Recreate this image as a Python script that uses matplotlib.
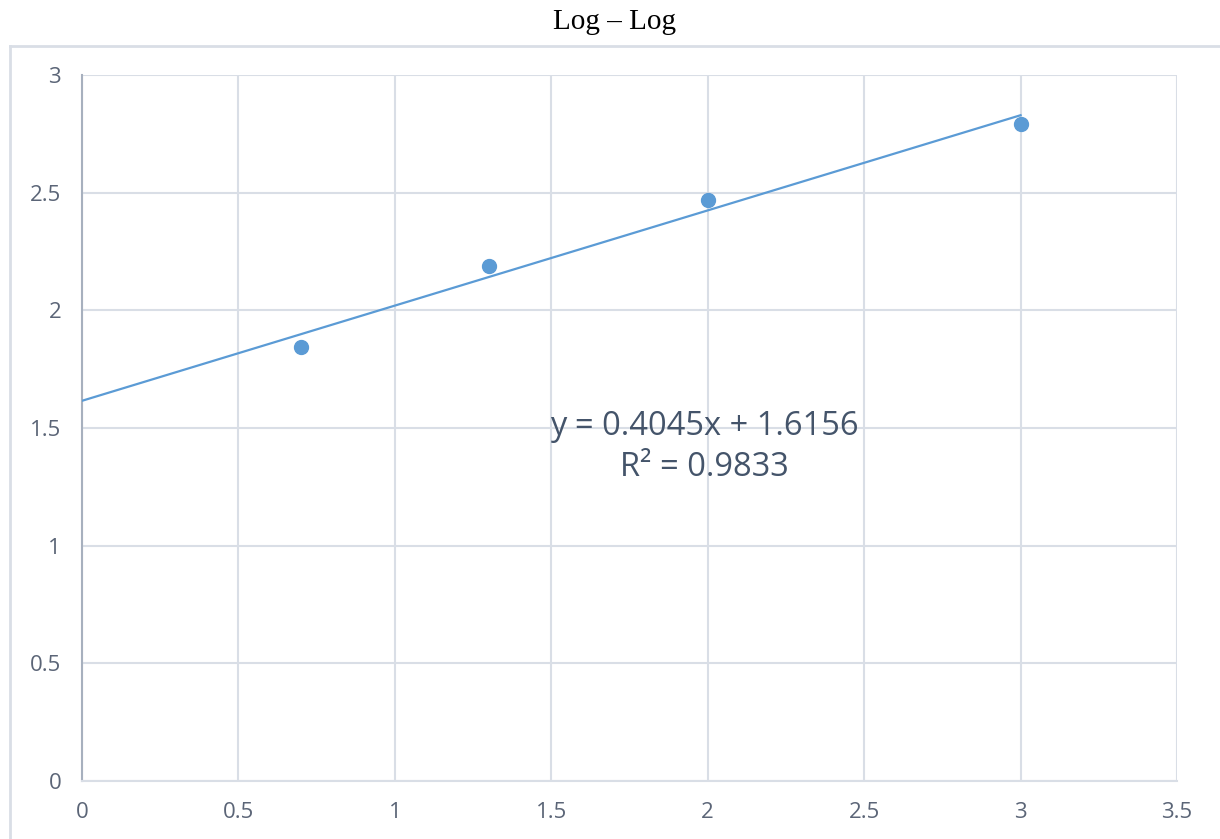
import matplotlib
matplotlib.use('Agg')
import matplotlib.pyplot as plt
from matplotlib.lines import Line2D

# data
log_x = [0.699, 1.301, 2.0, 3.0]
log_y = [1.845, 2.188, 2.470, 2.792]
slope = 0.4045
intercept = 1.6156
r2 = 0.9833
fit_x = [0, 3]

blue = '#5B9BD5'
grid_col = '#D9DEE6'
tick_col = '#5B6577'

fig = plt.figure(figsize=(12.2, 8.39), dpi=100)
ax = fig.add_axes([82/1220, 1 - 781/839, (1177 - 82)/1220, (781 - 75)/839])

# trendline
fit_y = [slope*v + intercept for v in fit_x]
ax.plot(fit_x, fit_y, color=blue, lw=1.6, zorder=3)
ax.plot(log_x, log_y, 'o', color=blue, ms=10, zorder=4)

ax.set_xlim(0, 3.5)
ax.set_ylim(0, 3)
ax.set_xticks([0, 0.5, 1, 1.5, 2, 2.5, 3, 3.5])
ax.set_xticklabels(['0', '0.5', '1', '1.5', '2', '2.5', '3', '3.5'])
ax.set_yticks([0, 0.5, 1, 1.5, 2, 2.5, 3])
ax.set_yticklabels(['0', '0.5', '1', '1.5', '2', '2.5', '3'])
ax.grid(True, color=grid_col, lw=1.5, zorder=0)
ax.set_axisbelow(True)
ax.tick_params(length=0, labelsize=16, labelcolor=tick_col)
ax.tick_params(axis='x', pad=15)
ax.tick_params(axis='y', pad=15)
for lab in ax.get_xticklabels() + ax.get_yticklabels():
    lab.set_family('Open Sans')
ax.spines['top'].set_visible(False)
ax.spines['right'].set_visible(False)
ax.spines['bottom'].set_color(grid_col)
ax.spines['bottom'].set_linewidth(1.5)
ax.spines['left'].set_color('#A7B0BE')
ax.spines['left'].set_linewidth(1.5)

ax.text(1.99, 1.42, 'y = %.4fx + %.4f\nR² = %.4f' % (slope, intercept, r2),
        ha='center', va='center', fontsize=23.5, color='#44546A',
        family='Open Sans', linespacing=1.3, zorder=5)

# outer chart border (runs off the image)
bx = 10/1220
by = 1 - 46/839
fig.add_artist(Line2D([bx, bx], [0, by], transform=fig.transFigure, color=grid_col, lw=2))
fig.add_artist(Line2D([bx, 1], [by, by], transform=fig.transFigure, color=grid_col, lw=2))

fig.text(615/1220, 1 - 22/839, 'Log – Log', ha='center', va='center',
         fontsize=21, family='Liberation Serif', color='black')

fig.savefig('out.png', dpi=100)
